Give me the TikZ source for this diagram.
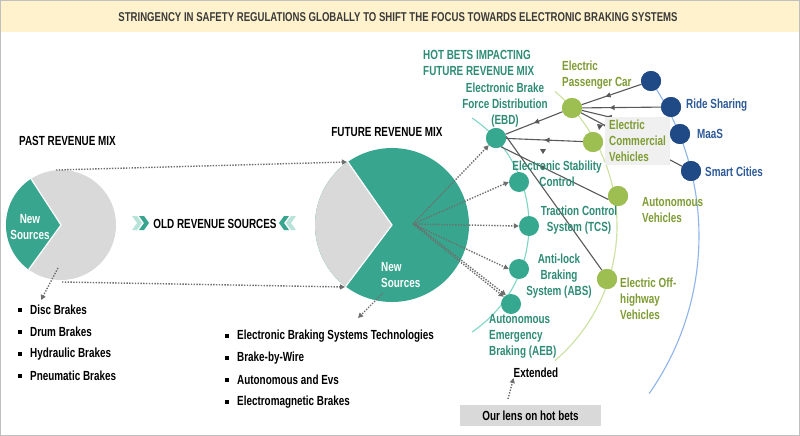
\documentclass[tikz,border=0pt]{standalone}
\usepackage{fontspec}
\setmainfont{Liberation Sans}[FakeStretch=0.75]
\usetikzlibrary{arrows.meta,decorations.markings}
\definecolor{bandfill}{HTML}{FFF2CC}
\definecolor{framegray}{HTML}{BFBFBF}
\definecolor{titletxt}{HTML}{3A3A3A}
\definecolor{pieteal}{HTML}{38A68E}
\definecolor{piegray}{HTML}{D9D9D9}
\definecolor{lteal}{HTML}{B7E3D8}
\definecolor{tealnode}{HTML}{36A88F}
\definecolor{tealtxt}{HTML}{2E8C76}
\definecolor{tealarc}{HTML}{7FD6C4}
\definecolor{greennode}{HTML}{9DBE50}
\definecolor{greentxt}{HTML}{7E9C33}
\definecolor{greenarc}{HTML}{CBE19F}
\definecolor{navynode}{HTML}{1F4A85}
\definecolor{navytxt}{HTML}{2D5A98}
\definecolor{bluearc}{HTML}{8EB4EA}
\definecolor{linegray}{HTML}{595959}
\definecolor{dotgray}{HTML}{6E6E6E}
\definecolor{boxgray}{HTML}{F0F0F0}
\definecolor{lensgray}{HTML}{D9D9D9}
\tikzset{
  midarr/.style={postaction={decorate}, decoration={markings, mark=at position #1 with {\arrow{Triangle[length=5pt,width=5pt]}}}},
  sline/.style={draw=linegray, line width=1.1pt},
  dotarr/.style={draw=dotgray, line width=1.4pt, dash pattern=on 1.4pt off 1.4pt, -{Triangle[length=5pt,width=5pt]}},
  tnode/.style={circle, fill=tealnode, minimum size=20pt, inner sep=0pt},
  gnode/.style={circle, fill=greennode, minimum size=20pt, inner sep=0pt},
  bnode/.style={circle, fill=navynode, minimum size=20pt, inner sep=0pt},
  lab/.style={inner sep=0pt, font=\bfseries\fontsize{13.2}{16}\selectfont},
  tlab/.style={lab, text=tealtxt},
  glab/.style={lab, text=greentxt},
  blab/.style={lab, text=navytxt},
  klab/.style={lab, text=black},
  wlab/.style={lab, text=white},
  bul/.style={fill=black, minimum size=4.5pt, inner sep=0pt},
}
\begin{document}
\begin{tikzpicture}[x=1pt,y=-1pt]
\useasboundingbox (0,0) rectangle (800,436);
\fill[white] (0,0) rectangle (800,436);
\fill[bandfill] (1,1) rectangle (799,32);
\draw[framegray, line width=1.3pt] (0.8,0.8) rectangle (799.2,435.2);
\node[lab, text=titletxt, font=\bfseries\fontsize{12.8}{14}\selectfont] (title) at (398,17) {STRINGENCY IN SAFETY REGULATIONS GLOBALLY TO SHIFT THE FOCUS TOWARDS ELECTRONIC BRAKING SYSTEMS};

% ---- past pie
\coordinate (pc) at (61,225);
\fill[piegray] (pc) circle[radius=55];
\fill[pieteal] (pc) -- ++(-123:55) arc[start angle=-123, end angle=-234, radius=55] -- cycle;
\draw[white, line width=1.2pt] (pc) ++(-123:55) -- (pc) -- ++(-234:55);
\node[klab, anchor=west] (pastT) at (19,141) {PAST REVENUE MIX};
\node[wlab, align=center] (pastNS) at (30,227) {New\\Sources};

% ---- future pie
\coordinate (fc) at (392,225);
\fill[pieteal] (fc) circle[radius=77];
\fill[piegray] (fc) -- ++(-125:77) arc[start angle=-125, end angle=-233, radius=77] -- cycle;
\draw[white, line width=1.2pt] (fc) ++(-125:77) -- (fc) -- ++(-233:77);
\node[klab] (futT) at (387,132) {FUTURE REVENUE MIX};
\node[wlab, align=left, anchor=west] (futNS) at (381,275) {New\\Sources};

% past -> future dotted
\coordinate (pTop) at (56,170);
\coordinate (fTop) at (347,162);
\coordinate (pBot) at (62,282);
\coordinate (fBot) at (345,287);
\draw[dotarr] (pTop) -- (fTop);
\draw[dotarr] (pBot) -- (fBot);
\coordinate (pOut) at (58,268);
\coordinate (pList) at (41,300);
\draw[dotarr] (pOut) -- (pList);
\coordinate (fOut) at (383,293);
\coordinate (fList) at (358,318);
\draw[dotarr] (fOut) -- (fList);

% chevrons & old revenue sources
\fill[lteal] (132,216) -- (137,216) -- (142,223) -- (137,230) -- (132,230) -- (137,223) -- cycle;
\fill[pieteal] (139,216) -- (144,216) -- (149,223) -- (144,230) -- (139,230) -- (144,223) -- cycle;
\fill[pieteal] (289,216) -- (284,216) -- (279,223) -- (284,230) -- (289,230) -- (284,223) -- cycle;
\fill[lteal] (296,216) -- (291,216) -- (286,223) -- (291,230) -- (296,230) -- (291,223) -- cycle;
\node[klab] (old) at (215,224) {OLD REVENUE SOURCES};

% bullets
\foreach \yy/\tt [count=\i] in {310/Disc Brakes, 332/Drum Brakes, 354/Hydraulic Brakes, 376/Pneumatic Brakes}{
  \node[bul] (lb\i) at (20,\yy) {};
  \node[klab, anchor=west] (lt\i) at (30,\yy) {\tt};
}
\foreach \yy/\tt [count=\i] in {336/Electronic Braking Systems Technologies, 358/Brake-by-Wire, 380/Autonomous and Evs, 402/Electromagnetic Brakes}{
  \node[bul] (rb\i) at (227,\yy) {};
  \node[klab, anchor=west] (rt\i) at (237,\yy) {\tt};
}

% ---- arcs
\draw[tealarc, line width=1.1pt] (400,225) ++(-56:129) arc[start angle=-56, end angle=56, radius=129];
\draw[greenarc, line width=1.1pt] (440,226) ++(-49.5:177) arc[start angle=-49.5, end angle=49.5, radius=177];
\draw[bluearc, line width=1.1pt] (425,236) ++(-34.4:274) arc[start angle=-34.4, end angle=35.1, radius=274];

% ---- node coordinates
\coordinate (cEBD) at (496,138);
\coordinate (cESC) at (519,182);
\coordinate (cTCS) at (529,226);
\coordinate (cABS) at (519,269);
\coordinate (cAEB) at (511,304);
\coordinate (cEPC) at (572,108);
\coordinate (cECV) at (593,142);
\coordinate (cAV) at (618,196);
\coordinate (cEOH) at (607,279);
\coordinate (cBT) at (651,81);
\coordinate (cRS) at (671,107);
\coordinate (cMS) at (680,134);
\coordinate (cSC) at (691,171);

\node[tnode] (EBD) at (cEBD) {};
\node[tnode] (ESC) at (cESC) {};
\node[tnode] (TCS) at (cTCS) {};
\node[tnode] (ABS) at (cABS) {};
\node[tnode] (AEB) at (cAEB) {};
\node[gnode] (EPC) at (cEPC) {};
\node[gnode] (ECV) at (cECV) {};
\node[gnode] (AV) at (cAV) {};
\node[gnode] (EOH) at (cEOH) {};
\node[bnode] (BT) at (cBT) {};
\node[bnode] (RS) at (cRS) {};
\node[bnode] (MS) at (cMS) {};
\node[bnode] (SC) at (cSC) {};

% ---- solid connectors
\draw[sline, midarr=0.6] (BT) -- (EPC);
\draw[sline, midarr=0.65] (RS) -- (EPC);
\draw[sline, midarr=0.72] (MS) -- (EPC);
\draw[sline, midarr=0.78] (SC) -- (EPC);
\draw[sline, midarr=0.5] (EPC) -- (EBD);
\draw[sline, midarr=0.5] (ECV) -- (EBD);
\draw[sline, midarr=0.64] (AV.200) -- (EBD.-60);
\draw[sline] (EOH.120) -- (EBD.10);
\fill[linegray] (540,149) -- (546,149) -- (543,154) -- cycle;
\fill[linegray] (597,124) -- (603,125) -- (599,130) -- cycle;

% redraw nodes over lines
\node[tnode] at (cEBD) {};
\node[gnode] at (cEPC) {};
\node[gnode] at (cECV) {};
\node[gnode] at (cAV) {};
\node[gnode] at (cEOH) {};
\node[bnode] at (cBT) {};
\node[bnode] at (cRS) {};
\node[bnode] at (cMS) {};
\node[bnode] at (cSC) {};

% ECV label box
\fill[boxgray] (605,117) rectangle (670,165);

% ---- dotted from future pie
\coordinate (fs) at (413,224);
\draw[dotarr] (fs) -- (EBD.225);
\draw[dotarr] (fs) -- (ESC.west);
\draw[dotarr] (fs) -- (TCS.west);
\draw[dotarr] (fs) -- (ABS.west);
\draw[dotarr] (fs) -- (AEB.135);
\draw[dotarr] ([xshift=2pt]fs) -- (AEB.120);

% ---- labels
\node[tlab, anchor=west, align=left] (hot) at (423,63) {HOT BETS IMPACTING\\FUTURE REVENUE MIX};
\node[tlab, align=center] (lEBD) at (505,105) {Electronic Brake\\Force Distribution\\(EBD)};
\node[tlab, align=center] (lESC) at (557,173.5) {Electronic Stability\\Control};
\node[tlab, align=center] (lTCS) at (579,220) {Traction Control\\System (TCS)};
\node[tlab, align=center] (lABS) at (559,276) {Anti-lock\\Braking\\System (ABS)};
\node[tlab, anchor=west, align=left] (lAEB) at (489,336) {Autonomous\\Emergency\\Braking (AEB)};
\node[glab, anchor=west, align=left] (lEPC) at (562,75) {Electric\\Passenger Car};
\node[glab, anchor=west, align=left] (lECV) at (609,141) {Electric\\Commercial\\Vehicles};
\node[glab, anchor=west, align=left] (lAV) at (642,210) {Autonomous\\Vehicles};
\node[glab, anchor=west, align=left] (lEOH) at (620,299) {Electric Off-\\highway\\Vehicles};
\node[blab, anchor=west] (lRS) at (686,105) {Ride Sharing};
\node[blab, anchor=west] (lMS) at (697,134) {MaaS};
\node[blab, anchor=west] (lSC) at (705,172) {Smart Cities};

% ---- extended / lens
\node[klab] (ext) at (536,373) {Extended};
\node[fill=lensgray, minimum width=141pt, minimum height=21pt, inner sep=0pt] (lens) at (530.5,415.5) {};
\node[klab] (lenst) at (lens) {Our lens on hot bets};
\coordinate (lensArr) at (508,399);
\draw[dotarr] (lensArr) -- (ext.south west);
\end{tikzpicture}
\end{document}
